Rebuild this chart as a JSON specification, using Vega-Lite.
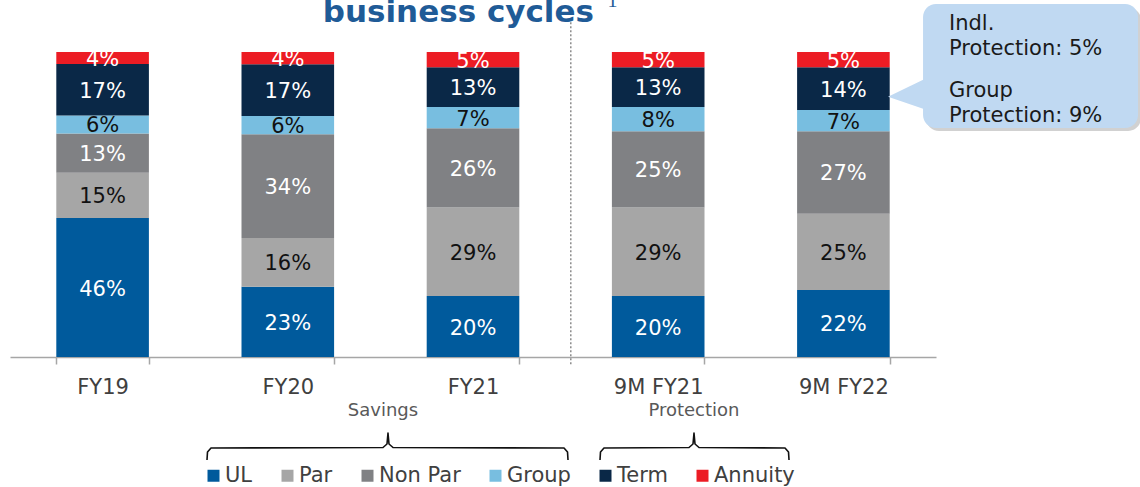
{
  "$schema": "https://vega.github.io/schema/vega-lite/v6.json",
  "width": 926,
  "height": 305,
  "autosize": "none",
  "padding": {"left": 10, "top": 52, "right": 204, "bottom": 130},
  "background": "white",
  "config": {"view": {"stroke": null}, "font": "DejaVu Sans"},
  "datasets": {
    "mix": [
      {"period": "FY19", "type": "UL", "pct": 0.46},
      {"period": "FY19", "type": "Par", "pct": 0.15},
      {"period": "FY19", "type": "Non Par", "pct": 0.13},
      {"period": "FY19", "type": "Group", "pct": 0.06},
      {"period": "FY19", "type": "Term", "pct": 0.17},
      {"period": "FY19", "type": "Annuity", "pct": 0.04},
      {"period": "FY20", "type": "UL", "pct": 0.23},
      {"period": "FY20", "type": "Par", "pct": 0.16},
      {"period": "FY20", "type": "Non Par", "pct": 0.34},
      {"period": "FY20", "type": "Group", "pct": 0.06},
      {"period": "FY20", "type": "Term", "pct": 0.17},
      {"period": "FY20", "type": "Annuity", "pct": 0.04},
      {"period": "FY21", "type": "UL", "pct": 0.20},
      {"period": "FY21", "type": "Par", "pct": 0.29},
      {"period": "FY21", "type": "Non Par", "pct": 0.26},
      {"period": "FY21", "type": "Group", "pct": 0.07},
      {"period": "FY21", "type": "Term", "pct": 0.13},
      {"period": "FY21", "type": "Annuity", "pct": 0.05},
      {"period": "9M FY21", "type": "UL", "pct": 0.20},
      {"period": "9M FY21", "type": "Par", "pct": 0.29},
      {"period": "9M FY21", "type": "Non Par", "pct": 0.25},
      {"period": "9M FY21", "type": "Group", "pct": 0.08},
      {"period": "9M FY21", "type": "Term", "pct": 0.13},
      {"period": "9M FY21", "type": "Annuity", "pct": 0.05},
      {"period": "9M FY22", "type": "UL", "pct": 0.22},
      {"period": "9M FY22", "type": "Par", "pct": 0.25},
      {"period": "9M FY22", "type": "Non Par", "pct": 0.27},
      {"period": "9M FY22", "type": "Group", "pct": 0.07},
      {"period": "9M FY22", "type": "Term", "pct": 0.14},
      {"period": "9M FY22", "type": "Annuity", "pct": 0.05}
    ],
    "braces": [
      {"brace": "Savings", "i": 0, "ax": 1.0637, "ay": -0.3377},
      {"brace": "Savings", "i": 1, "ax": 1.0664, "ay": -0.3115},
      {"brace": "Savings", "i": 2, "ax": 1.0853, "ay": -0.2984},
      {"brace": "Savings", "i": 3, "ax": 2.0140, "ay": -0.2967},
      {"brace": "Savings", "i": 4, "ax": 2.0356, "ay": -0.2852},
      {"brace": "Savings", "i": 5, "ax": 2.0410, "ay": -0.2492},
      {"brace": "Savings", "i": 6, "ax": 2.0464, "ay": -0.2852},
      {"brace": "Savings", "i": 7, "ax": 2.0680, "ay": -0.2967},
      {"brace": "Savings", "i": 8, "ax": 2.9914, "ay": -0.2984},
      {"brace": "Savings", "i": 9, "ax": 3.0103, "ay": -0.3115},
      {"brace": "Savings", "i": 10, "ax": 3.0130, "ay": -0.3377},
      {"brace": "Protection", "i": 0, "ax": 3.1857, "ay": -0.3377},
      {"brace": "Protection", "i": 1, "ax": 3.1884, "ay": -0.3115},
      {"brace": "Protection", "i": 2, "ax": 3.2073, "ay": -0.2984},
      {"brace": "Protection", "i": 3, "ax": 3.6663, "ay": -0.2967},
      {"brace": "Protection", "i": 4, "ax": 3.6879, "ay": -0.2852},
      {"brace": "Protection", "i": 5, "ax": 3.6933, "ay": -0.2492},
      {"brace": "Protection", "i": 6, "ax": 3.6987, "ay": -0.2852},
      {"brace": "Protection", "i": 7, "ax": 3.7203, "ay": -0.2967},
      {"brace": "Protection", "i": 8, "ax": 4.1847, "ay": -0.2984},
      {"brace": "Protection", "i": 9, "ax": 4.2036, "ay": -0.3115},
      {"brace": "Protection", "i": 10, "ax": 4.2063, "ay": -0.3377}
    ]
  },
  "layer": [
    {
      "data": {"name": "mix"},
      "transform": [
        {"calculate": "indexof(['UL','Par','Non Par','Group','Term','Annuity'], datum.type)", "as": "k"},
        {"stack": "pct", "groupby": ["period"], "sort": [{"field": "k"}], "offset": "normalize", "as": ["lo", "hi"]}
      ],
      "mark": {"type": "bar"},
      "encoding": {
        "x": {"field": "period", "type": "nominal", "sort": ["FY19", "FY20", "FY21", "9M FY21", "9M FY22"],
              "scale": {"paddingInner": 0.5, "paddingOuter": 0.25},
              "axis": {"title": null, "labelAngle": 0, "labelFont": "DejaVu Sans", "labelFontSize": 21, "labelColor": "#404040",
                       "domainColor": "#A6A6A6", "domainWidth": 1.5, "tickColor": "#A6A6A6", "tickWidth": 1.5, "tickSize": 7,
                       "tickBand": "extent", "labelPadding": 12, "grid": false}},
        "y": {"field": "lo", "type": "quantitative", "scale": {"domain": [0, 1], "nice": false, "zero": false}, "axis": null},
        "y2": {"field": "hi"},
        "color": {"field": "type", "type": "nominal",
                  "scale": {"domain": ["UL", "Par", "Non Par", "Group", "Term", "Annuity"],
                            "range": ["#005A9C", "#A6A6A6", "#808184", "#78BEE0", "#0A2847", "#EC1C24"]},
                  "legend": {"orient": "none", "legendX": 193, "legendY": 413, "direction": "horizontal", "title": null,
                             "symbolType": "square", "symbolSize": 144, "symbolStrokeWidth": 0, "labelFont": "DejaVu Sans",
                             "labelFontSize": 21, "labelColor": "#404040", "columnPadding": 24, "labelOffset": 1, "padding": 0}}
      }
    },
    {
      "data": {"name": "mix"},
      "transform": [
        {"calculate": "indexof(['UL','Par','Non Par','Group','Term','Annuity'], datum.type)", "as": "k"},
        {"stack": "pct", "groupby": ["period"], "sort": [{"field": "k"}], "offset": "normalize", "as": ["lo", "hi"]},
        {"calculate": "(datum.lo + datum.hi) / 2", "as": "mid"}
      ],
      "mark": {"type": "text", "font": "DejaVu Sans", "fontSize": 21, "baseline": "middle", "align": "center", "dy": 2},
      "encoding": {
        "x": {"field": "period", "type": "nominal", "sort": ["FY19", "FY20", "FY21", "9M FY21", "9M FY22"],
              "scale": {"type": "band", "paddingInner": 0.5, "paddingOuter": 0.25}, "axis": null},
        "y": {"field": "mid", "type": "quantitative", "scale": {"domain": [0, 1], "nice": false, "zero": false}},
        "text": {"field": "pct", "type": "quantitative", "format": ".0%"},
        "color": {"condition": {"test": "datum.type === 'Par' || datum.type === 'Group'", "value": "#111111"}, "value": "#FFFFFF"}
      }
    },
    {
      "data": {"values": [{"ax": 3.028, "ay": 1.111, "ay2": -0.026}]},
      "mark": {"type": "rule", "color": "#8C8C8C", "strokeWidth": 1.5, "strokeDash": [2, 2]},
      "encoding": {
        "x": {"field": "ax", "type": "quantitative", "scale": {"domain": [0, 5], "nice": false, "zero": false}, "axis": null},
        "y": {"field": "ay", "type": "quantitative", "scale": {"domain": [0, 1], "nice": false, "zero": false}},
        "y2": {"field": "ay2"}
      }
    },
    {
      "data": {"name": "braces"},
      "mark": {"type": "line", "color": "#111111", "strokeWidth": 1.6, "strokeJoin": "round"},
      "encoding": {
        "x": {"field": "ax", "type": "quantitative", "scale": {"domain": [0, 5], "nice": false, "zero": false}, "axis": null},
        "y": {"field": "ay", "type": "quantitative", "scale": {"domain": [0, 1], "nice": false, "zero": false}},
        "detail": {"field": "brace", "type": "nominal"},
        "order": {"field": "i", "type": "quantitative"}
      }
    },
    {
      "data": {"values": [{"ax": 2.014, "ay": -0.177, "t": "Savings"}, {"ax": 3.693, "ay": -0.177, "t": "Protection"}]},
      "mark": {"type": "text", "font": "DejaVu Sans", "fontSize": 18, "color": "#595959", "align": "center", "baseline": "middle"},
      "encoding": {
        "x": {"field": "ax", "type": "quantitative", "scale": {"domain": [0, 5], "nice": false, "zero": false}, "axis": null},
        "y": {"field": "ay", "type": "quantitative", "scale": {"domain": [0, 1], "nice": false, "zero": false}},
        "text": {"field": "t"}
      }
    },
    {
      "data": {"values": [{"ax": 4.946, "ax2": 6.107, "ay": 1.147, "ay2": 0.741}]},
      "mark": {"type": "rect", "fill": "#9A9A9A", "opacity": 0.45, "cornerRadius": 13},
      "encoding": {
        "x": {"field": "ax", "type": "quantitative", "scale": {"domain": [0, 5], "nice": false, "zero": false}, "axis": null},
        "x2": {"field": "ax2"},
        "y": {"field": "ay", "type": "quantitative", "scale": {"domain": [0, 1], "nice": false, "zero": false}},
        "y2": {"field": "ay2"}
      }
    },
    {
      "data": {"values": [{"ax": 4.930, "ax2": 6.091, "ay": 1.157, "ay2": 0.751}]},
      "mark": {"type": "rect", "fill": "#C0D9F2", "cornerRadius": 13},
      "encoding": {
        "x": {"field": "ax", "type": "quantitative", "scale": {"domain": [0, 5], "nice": false, "zero": false}, "axis": null},
        "x2": {"field": "ax2"},
        "y": {"field": "ay", "type": "quantitative", "scale": {"domain": [0, 1], "nice": false, "zero": false}},
        "y2": {"field": "ay2"}
      }
    },
    {
      "data": {"values": [{"ax": 4.741, "ay": 0.853, "ay2": 0.853}, {"ax": 4.95, "ay": 0.915, "ay2": 0.810}]},
      "mark": {"type": "area", "fill": "#C0D9F2", "orient": "vertical"},
      "encoding": {
        "x": {"field": "ax", "type": "quantitative", "scale": {"domain": [0, 5], "nice": false, "zero": false}, "axis": null},
        "y": {"field": "ay", "type": "quantitative", "scale": {"domain": [0, 1], "nice": false, "zero": false}},
        "y2": {"field": "ay2"}
      }
    },
    {
      "data": {"values": [
        {"ax": 5.07, "ay": 1.072, "t": "Indl."},
        {"ax": 5.07, "ay": 0.990, "t": "Protection: 5%"},
        {"ax": 5.07, "ay": 0.852, "t": "Group"},
        {"ax": 5.07, "ay": 0.770, "t": "Protection: 9%"}
      ]},
      "mark": {"type": "text", "font": "DejaVu Sans", "fontSize": 21, "color": "#1A1A1A", "align": "left", "baseline": "alphabetic"},
      "encoding": {
        "x": {"field": "ax", "type": "quantitative", "scale": {"domain": [0, 5], "nice": false, "zero": false}, "axis": null},
        "y": {"field": "ay", "type": "quantitative", "scale": {"domain": [0, 1], "nice": false, "zero": false}},
        "text": {"field": "t"}
      }
    },
    {
      "data": {"values": [{"ax": 2.421, "ay": 1.099, "t": "business cycles"}]},
      "mark": {"type": "text", "font": "DejaVu Sans", "fontSize": 31, "fontWeight": "bold", "color": "#1F5B97", "align": "center", "baseline": "alphabetic"},
      "encoding": {
        "x": {"field": "ax", "type": "quantitative", "scale": {"domain": [0, 5], "nice": false, "zero": false}, "axis": null},
        "y": {"field": "ay", "type": "quantitative", "scale": {"domain": [0, 1], "nice": false, "zero": false}},
        "text": {"field": "t"}
      }
    },
    {
      "data": {"values": [{"ax": 3.253, "ay": 1.148, "t": "1"}]},
      "mark": {"type": "text", "font": "Liberation Serif", "fontSize": 20, "color": "#1F5B97", "align": "center", "baseline": "alphabetic"},
      "encoding": {
        "x": {"field": "ax", "type": "quantitative", "scale": {"domain": [0, 5], "nice": false, "zero": false}, "axis": null},
        "y": {"field": "ay", "type": "quantitative", "scale": {"domain": [0, 1], "nice": false, "zero": false}},
        "text": {"field": "t"}
      }
    }
  ],
  "resolve": {"scale": {"x": "independent"}, "axis": {"x": "independent"}}
}
